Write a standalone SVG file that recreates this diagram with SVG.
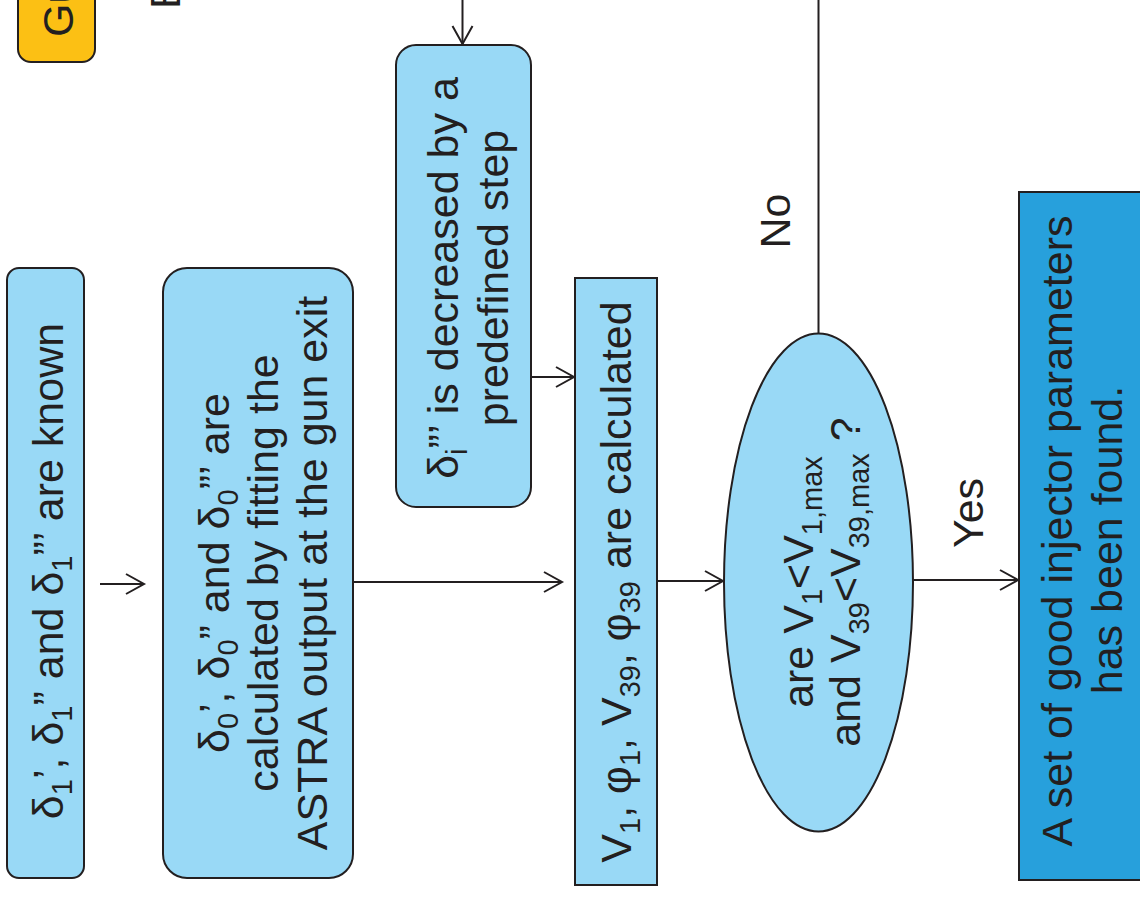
<svg xmlns="http://www.w3.org/2000/svg" width="1140" height="897" viewBox="0 0 1140 897">
<defs>
<style>
.t{font-family:"Liberation Sans",Arial,sans-serif;font-size:43px;fill:#231f20}
.s{font-size:29px}
.lb{fill:#99d9f6;stroke:#231f20;stroke-width:2}
.db{fill:#27a0dc;stroke:#231f20;stroke-width:2}
.yl{fill:#fcc014;stroke:#231f20;stroke-width:2}
.c{fill:none;stroke:#231f20;stroke-width:2}
</style>
<marker id="ah" markerUnits="userSpaceOnUse" markerWidth="24" markerHeight="24" refX="19" refY="11" orient="auto" viewBox="0 0 24 24">
<path d="M1,1 L19,11 L1,21" fill="none" stroke="#231f20" stroke-width="2"/>
</marker>
</defs>
<rect width="1140" height="897" fill="#ffffff"/>

<g id="gun">
<rect class="yl" x="18" y="-40" width="77" height="102" rx="13"/>
<text class="t" x="73" y="37" transform="rotate(-90 73 37)">Gu</text>
</g>
<g id="partial-e">
<text class="t" x="180" y="9" transform="rotate(-90 180 9)">E</text>
</g>

<g id="n1">
<rect class="lb" x="7" y="268" width="77" height="610" rx="12"/>
<text class="t" x="63" y="571" transform="rotate(-90 63 571)" text-anchor="middle">δ<tspan class="s" dy="9">1</tspan><tspan dy="-9">’, δ</tspan><tspan class="s" dy="9">1</tspan><tspan dy="-9">” and δ</tspan><tspan class="s" dy="9">1</tspan><tspan dy="-9">”’ are known</tspan></text>
</g>

<g id="n2">
<rect class="lb" x="163" y="268" width="190" height="610" rx="24"/>
<text class="t" x="229" y="573" transform="rotate(-90 229 573)" text-anchor="middle">δ<tspan class="s" dy="9">0</tspan><tspan dy="-9">’, δ</tspan><tspan class="s" dy="9">0</tspan><tspan dy="-9">” and δ</tspan><tspan class="s" dy="9">0</tspan><tspan dy="-9">”’ are</tspan></text>
<text class="t" x="278" y="573" transform="rotate(-90 278 573)" text-anchor="middle">calculated by fitting the</text>
<text class="t" x="327" y="573" transform="rotate(-90 327 573)" text-anchor="middle">ASTRA output at the gun exit</text>
</g>

<g id="n4">
<rect class="lb" x="396" y="45" width="135" height="462" rx="20"/>
<text class="t" x="458" y="278" transform="rotate(-90 458 278)" text-anchor="middle">δ<tspan class="s" dy="9">i</tspan><tspan dy="-9">”’ is decreased by a</tspan></text>
<text class="t" x="508" y="278" transform="rotate(-90 508 278)" text-anchor="middle">predefined step</text>
</g>

<g id="n3">
<rect class="lb" x="575" y="278" width="82" height="607"/>
<text class="t" x="631" y="582" transform="rotate(-90 631 582)" text-anchor="middle">V<tspan class="s" dy="9">1</tspan><tspan dy="-9">,  φ</tspan><tspan class="s" dy="9">1</tspan><tspan dy="-9">,  V</tspan><tspan class="s" dy="9">39</tspan><tspan dy="-9">,  φ</tspan><tspan class="s" dy="9">39</tspan><tspan dy="-9"> are calculated</tspan></text>
</g>

<g id="decision">
<ellipse class="lb" cx="818.5" cy="582.5" rx="94.5" ry="249"/>
<text class="t" x="813" y="582" transform="rotate(-90 813 582)" text-anchor="middle">are V<tspan class="s" dy="9">1</tspan><tspan dy="-9">&lt;V</tspan><tspan class="s" dy="9">1,max</tspan></text>
<text class="t" x="860" y="582" transform="rotate(-90 860 582)" text-anchor="middle">and V<tspan class="s" dy="9">39</tspan><tspan dy="-9">&lt;V</tspan><tspan class="s" dy="9">39,max</tspan><tspan dy="-9"> ?</tspan></text>
</g>

<g id="n5">
<rect class="db" x="1019" y="192" width="140" height="688"/>
<text class="t" x="1072" y="531" transform="rotate(-90 1072 531)" text-anchor="middle">A set of good injector parameters</text>
<text class="t" x="1122" y="540" transform="rotate(-90 1122 540)" text-anchor="middle">has been found.</text>
</g>

<g id="connectors">
<line class="c" x1="100" y1="584" x2="144" y2="584" marker-end="url(#ah)"/>
<line class="c" x1="353" y1="582" x2="562" y2="582" marker-end="url(#ah)"/>
<line class="c" x1="531" y1="377" x2="574" y2="377" marker-end="url(#ah)"/>
<line class="c" x1="462.5" y1="0" x2="462.5" y2="44" marker-end="url(#ah)"/>
<line class="c" x1="657" y1="581" x2="723" y2="581" marker-end="url(#ah)"/>
<line class="c" x1="913" y1="580" x2="1018" y2="580" marker-end="url(#ah)"/>
<line class="c" x1="818.5" y1="0" x2="818.5" y2="333.5"/>
<text class="t" x="790" y="221" transform="rotate(-90 790 221)" text-anchor="middle">No</text>
<text class="t" x="983" y="513" transform="rotate(-90 983 513)" text-anchor="middle">Yes</text>
</g>
</svg>
